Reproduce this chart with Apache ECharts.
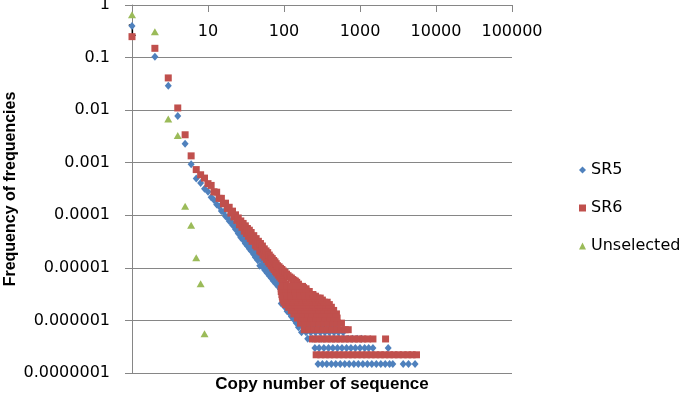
<!DOCTYPE html>
<html>
<head>
<meta charset="utf-8">
<script src="https://cdn.jsdelivr.net/npm/echarts@6/dist/echarts.min.js"></script>
<style>
  html, body { margin: 0; padding: 0; background: #fff; }
  #chart { width: 686px; height: 400px; }
</style>
</head>
<body>
<div id="chart"></div>
<script>
// tick labels
const xTickLabels = ['1', '10', '100', '1000', '10000', '100000'];
const yTickLabels = ['0.0000001', '0.000001', '0.00001', '0.0001', '0.001', '0.01', '0.1', '1'];

// SR5 - main band (copy number, frequency of frequencies)
const sr5Copies = [1, 2, 3, 4, 5, 6, 7, 8, 9, 10, 11, 12, 13, 14, 15, 16, 17, 18, 19, 20,
  21, 22, 23, 24, 25, 26, 27, 28, 29, 30, 31, 32, 33, 34, 35, 36, 37, 38, 40, 41,
  42, 44, 45, 47, 48, 50, 52, 54, 56, 58, 60, 62, 64, 66, 68, 70, 72, 75, 78, 81,
  84, 87, 90, 94, 98, 102, 106, 110, 115, 120];
const sr5Freqs = [0.40, 0.104, 0.029, 0.0077, 0.0023, 0.00093, 0.0005, 4.1e-4, 3.2e-4, 2.8e-4,
  2.2e-4, 1.95e-4, 1.6e-4, 1.48e-4, 1.2e-4, 1.15e-4, 9.6e-5, 9.2e-5, 7.8e-5, 7.6e-5,
  6.5e-5, 6.4e-5, 5.4e-5, 5.5e-5, 4.5e-5, 4.7e-5, 3.8e-5, 4.1e-5, 3.4e-5, 3.6e-5,
  2.9e-5, 3.2e-5, 2.6e-5, 2.9e-5, 2.3e-5, 2.6e-5, 2.1e-5, 2.4e-5, 1.8e-5, 2.1e-5,
  1.6e-5, 1.8e-5, 1.4e-5, 1.6e-5, 1.1e-5, 1.45e-5, 1.05e-5, 1.25e-5, 9.0e-6, 1.1e-5,
  8.0e-6, 9.8e-6, 7.1e-6, 8.9e-6, 6.4e-6, 8.0e-6, 5.7e-6, 7.1e-6, 5.0e-6, 6.2e-6,
  4.4e-6, 5.6e-6, 3.9e-6, 4.8e-6, 3.1e-6, 4.1e-6, 2.7e-6, 3.5e-6, 2.3e-6, 3.0e-6];

// SR5 - flat rows at low counts (one frequency level, many copy numbers)
const sr5RowFreqs = [1.49e-7, 2.98e-7, 4.47e-7, 5.96e-7, 7.45e-7, 8.9e-7, 1.04e-6, 1.19e-6,
  1.34e-6, 1.49e-6, 1.79e-6, 2.09e-6];
const sr5RowCopies = [
  [280, 320, 365, 420, 480, 550, 630, 720, 830, 950, 1090, 1250, 1430, 1640, 1880, 2150, 2450, 2700, 3700, 4350, 5300],
  [255, 290, 335, 385, 440, 505, 580, 665, 760, 870, 1000, 1150, 1300, 1480, 2350],
  [205, 235, 270, 310, 355, 405, 465, 535, 615, 700, 800, 920, 1050],
  [170, 195, 225, 260, 300, 345, 395, 455, 520, 600],
  [155, 180, 205, 235, 270, 310, 355, 410, 470],
  [145, 165, 190, 220, 255, 290, 335, 385, 450],
  [135, 155, 180, 205, 235, 270, 310, 360, 410],
  [125, 145, 165, 190, 220, 255, 295, 340, 390],
  [120, 138, 160, 185, 215, 245, 285, 330],
  [110, 127, 146, 168, 195, 225, 260, 300],
  [103, 119, 137, 158, 182, 210, 245],
  [92, 106, 122, 140, 161, 185, 215]
];

// SR6 - main band
const sr6Copies = [1, 2, 3, 4, 5, 6, 7, 8, 9, 10, 11, 12, 13, 14, 15, 16, 17, 18, 19, 20,
  21, 22, 23, 24, 25, 26, 27, 28, 29, 30, 31, 32, 33, 34, 35, 36, 37, 38, 40, 42,
  43, 44, 46, 48, 49, 50, 52, 53, 55, 56, 58, 59, 61, 62, 64, 65, 67, 68, 70, 71,
  73, 74, 76, 77, 79, 80, 82, 84, 86, 88, 90, 92, 94, 96, 98, 100, 103, 105, 108, 110,
  113, 116, 119, 122, 125, 130, 135, 141, 147, 155, 163, 172, 181, 190, 199, 210, 222, 235, 250];
const sr6Freqs = [0.25, 0.15, 0.041, 0.011, 0.0034, 0.00135, 0.00074, 5.9e-4, 5.1e-4, 4.0e-4,
  3.7e-4, 2.8e-4, 2.75e-4, 2.1e-4, 2.1e-4, 1.65e-4, 1.7e-4, 1.35e-4, 1.42e-4, 1.1e-4,
  1.2e-4, 9.3e-5, 1.02e-4, 8.0e-5, 8.9e-5, 6.6e-5, 7.8e-5, 5.9e-5, 7.0e-5, 5.0e-5,
  6.3e-5, 4.5e-5, 5.6e-5, 4.0e-5, 5.2e-5, 3.6e-5, 4.7e-5, 3.2e-5, 4.1e-5, 2.7e-5,
  3.6e-5, 2.5e-5, 3.2e-5, 2.1e-5, 2.9e-5, 2.0e-5, 2.6e-5, 1.75e-5, 2.3e-5, 1.6e-5,
  2.1e-5, 1.45e-5, 1.95e-5, 1.3e-5, 1.75e-5, 1.2e-5, 1.6e-5, 1.1e-5, 1.5e-5, 1.0e-5,
  1.38e-5, 9.3e-6, 1.3e-5, 8.6e-6, 1.2e-5, 8.0e-6, 1.1e-5, 7.3e-6, 1.05e-5, 6.7e-6,
  9.8e-6, 6.2e-6, 9.3e-6, 5.8e-6, 8.7e-6, 5.3e-6, 8.2e-6, 4.9e-6, 7.6e-6, 4.4e-6,
  7.1e-6, 4.0e-6, 6.7e-6, 3.8e-6, 6.4e-6, 6.0e-6, 5.8e-6, 5.6e-6, 5.3e-6, 4.9e-6,
  4.4e-6, 4.0e-6, 4.2e-6, 3.8e-6, 3.6e-6, 3.3e-6, 3.1e-6, 2.9e-6, 2.7e-6];

// SR6 - flat rows at low counts
const sr6RowFreqs = [2.22e-7, 4.44e-7, 6.66e-7, 8.88e-7, 1.11e-6, 1.33e-6, 1.55e-6, 1.78e-6,
  2.0e-6, 2.22e-6, 2.44e-6, 2.66e-6, 2.89e-6, 3.11e-6, 3.55e-6, 4.0e-6, 4.44e-6];
const sr6RowCopies = [
  [265, 305, 350, 400, 460, 530, 610, 700, 800, 920, 1060, 1220, 1400, 1610, 1850, 2120, 2440, 2800, 3200, 3700, 4250, 4850, 5540],
  [237, 272, 313, 360, 415, 475, 545, 625, 720, 830, 950, 1090, 1260, 1480, 2170],
  [185, 213, 245, 282, 324, 372, 428, 492, 566, 640, 700],
  [165, 190, 218, 251, 289, 332, 382, 439, 505, 570],
  [150, 172, 198, 228, 262, 301, 346, 398, 450, 500],
  [135, 155, 178, 205, 236, 271, 312, 359, 413, 490],
  [125, 144, 165, 190, 219, 252, 290, 333, 383, 450],
  [115, 132, 152, 175, 201, 231, 266, 306, 352, 420],
  [105, 121, 139, 160, 184, 211, 243, 279, 321, 360, 395],
  [100, 115, 132, 152, 175, 201, 231, 266, 306, 340, 370],
  [98, 113, 130, 149, 171, 197, 227, 261, 290, 320],
  [96, 110, 127, 146, 168, 193, 222, 255, 280, 300],
  [95, 109, 125, 144, 166, 191, 220, 245, 260],
  [94, 108, 124, 143, 164, 189, 215, 240],
  [92, 106, 122, 140, 161, 185, 215],
  [92, 106, 122, 140, 161, 180, 195],
  [95, 109, 125, 144, 160, 175]
];

// Unselected
const unselCopies = [1, 2, 3, 4, 5, 6, 7, 8, 9];
const unselFreqs = [0.65, 0.31, 0.0068, 0.0033, 0.000148, 0.0000645, 0.0000156, 0.000005, 0.00000056];

const pairs = (copies, freqs) => copies.map((c, i) => [c, freqs[i]]);
const rowPoints = (freqs, copyLists) => {
  const out = [];
  copyLists.forEach((list, i) => list.forEach(c => out.push([c, freqs[i]])));
  return out;
};

const axisGrey = '#868686';
const labelFont = 'DejaVu Sans';

const chart = echarts.init(document.getElementById('chart'));

const option = {
  animation: false,
  grid: { left: 132, top: 5, width: 380, height: 368, outerBoundsMode: 'none' },
  legend: {
    orient: 'vertical',
    left: 574,
    top: 157,
    itemWidth: 7,
    itemHeight: 7,
    itemGap: 22,
    textStyle: { fontFamily: labelFont, fontSize: 16, color: '#000', lineHeight: 16 },
    data: ['SR5', 'SR6', 'Unselected']
  },
  xAxis: {
    type: 'log',
    logBase: 10,
    min: 1,
    max: 100000,
    position: 'top',
    axisLine: { show: true, lineStyle: { color: axisGrey } },
    axisTick: { show: true, inside: true, length: 7, lineStyle: { color: axisGrey } },
    axisLabel: {
      inside: true,
      margin: 19,
      fontFamily: labelFont,
      fontSize: 16,
      color: '#000',
      formatter: v => xTickLabels[Math.round(Math.log10(v))]
    },
    splitLine: { show: false }
  },
  yAxis: {
    type: 'log',
    logBase: 10,
    min: 1e-7,
    max: 1,
    name: 'Frequency of frequencies',
    nameLocation: 'middle',
    nameGap: 113,
    nameMoveOverlap: false,
    nameRotate: 90,
    nameTextStyle: { fontFamily: 'Liberation Sans', fontWeight: 'bold', fontSize: 16, color: '#000' },
    axisLine: { show: true, lineStyle: { color: axisGrey } },
    axisTick: { show: true, length: 7, lineStyle: { color: axisGrey } },
    axisLabel: {
      margin: 22,
      fontFamily: labelFont,
      fontSize: 16,
      color: '#000',
      formatter: v => yTickLabels[Math.round(Math.log10(v)) + 7]
    },
    splitLine: { show: true, lineStyle: { color: axisGrey, width: 1 } }
  },
  graphic: [{
    type: 'text',
    x: 322,
    y: 384,
    style: {
      text: 'Copy number of sequence',
      align: 'center',
      verticalAlign: 'middle',
      fontFamily: 'Liberation Sans',
      fontWeight: 'bold',
      fontSize: 17,
      fill: '#000'
    }
  }],
  series: [
    {
      name: 'SR5',
      type: 'scatter',
      symbol: 'diamond',
      symbolSize: [7, 8],
      clip: false,
      silent: true,
      itemStyle: { color: '#4F81BD', opacity: 1 },
      data: pairs(sr5Copies, sr5Freqs).concat(rowPoints(sr5RowFreqs, sr5RowCopies))
    },
    {
      name: 'SR6',
      type: 'scatter',
      symbol: 'rect',
      symbolSize: 7,
      clip: false,
      silent: true,
      itemStyle: { color: '#C0504D', opacity: 1 },
      data: pairs(sr6Copies, sr6Freqs).concat(rowPoints(sr6RowFreqs, sr6RowCopies))
    },
    {
      name: 'Unselected',
      type: 'scatter',
      symbol: 'triangle',
      symbolSize: [8, 7],
      clip: false,
      silent: true,
      itemStyle: { color: '#9BBB59', opacity: 1 },
      data: pairs(unselCopies, unselFreqs)
    }
  ]
};

chart.setOption(option);
</script>
</body>
</html>
